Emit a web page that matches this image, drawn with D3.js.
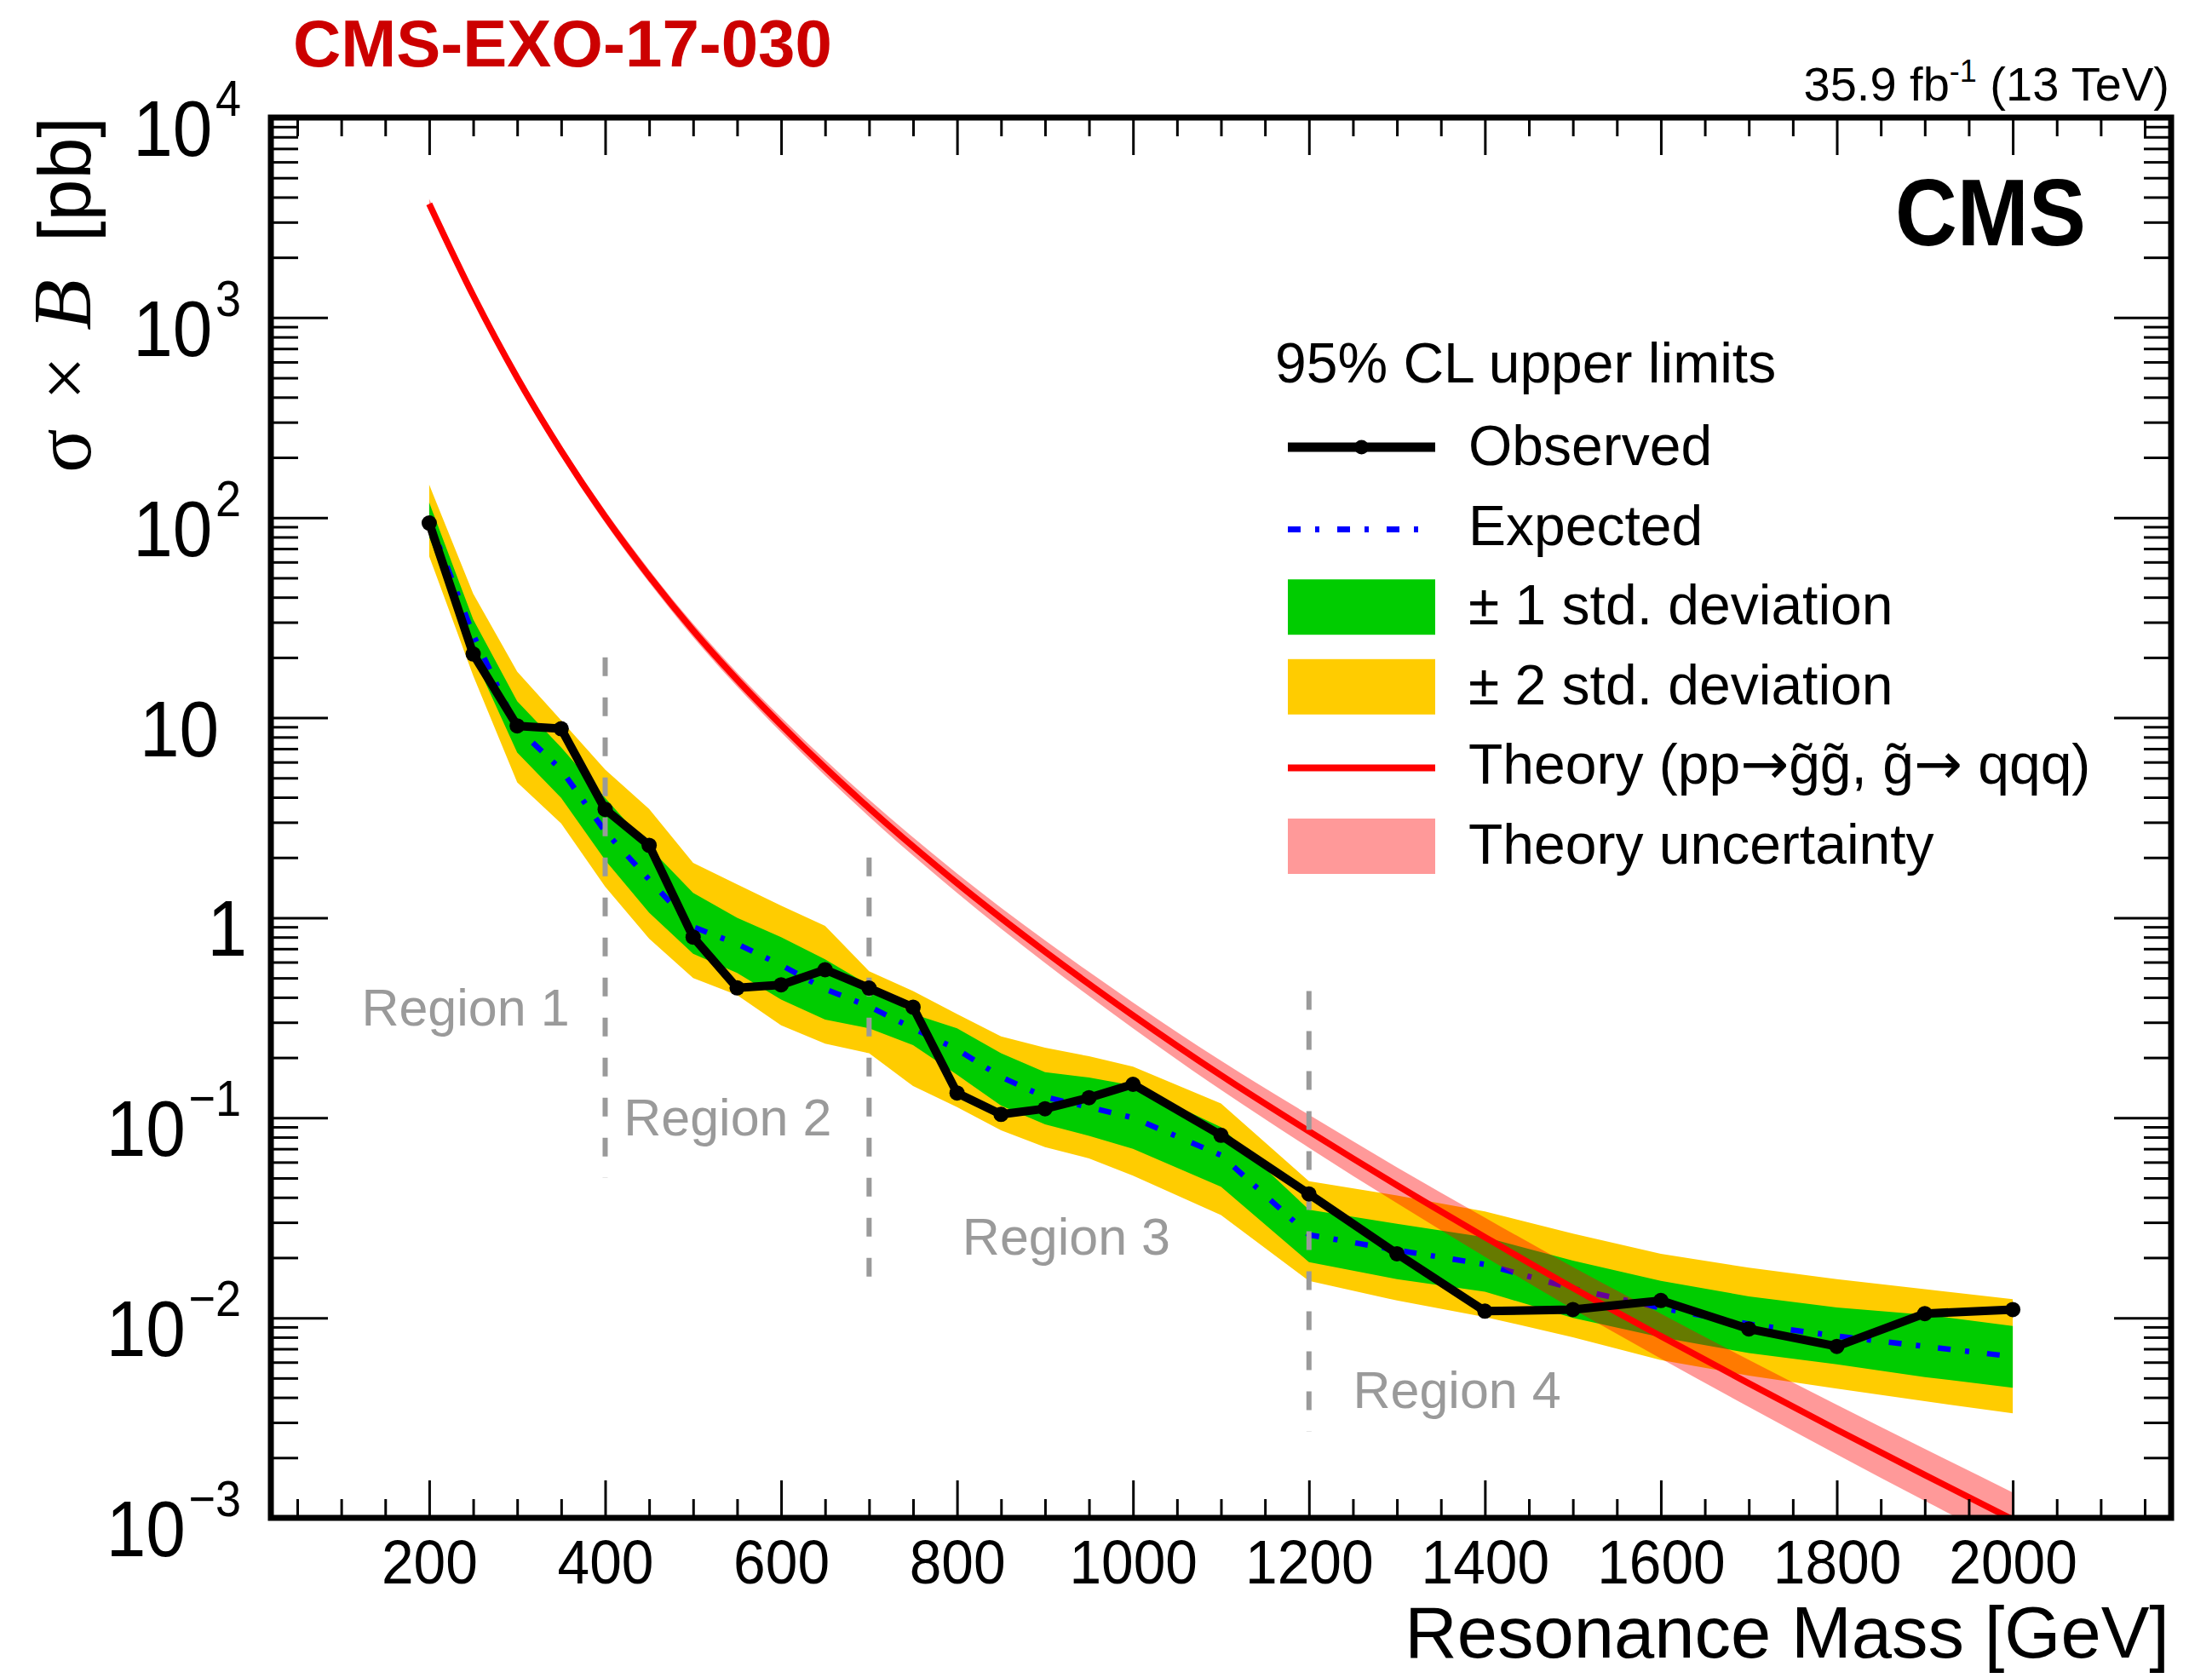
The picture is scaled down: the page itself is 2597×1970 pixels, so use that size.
<!DOCTYPE html>
<html>
<head>
<meta charset="utf-8">
<script src="https://cdn.jsdelivr.net/npm/d3@7"></script>
<style>
  body { margin: 0; background: #fff; }
  svg { display: block; }
  text { font-family: "Liberation Sans", Arial, Helvetica, sans-serif; }
</style>
</head>
<body>
<svg id="chart" width="2597" height="1970"></svg>
<script>
// Resonance mass points (GeV)
const massPoints = [200, 250, 300, 350, 400, 450, 500, 550, 600, 650, 700, 750, 800, 850, 900, 950, 1000,
                    1100, 1200, 1300, 1400, 1500, 1600, 1700, 1800, 1900, 2000];
// 95% CL upper limits on sigma x B (pb)
const observedLimit = [94, 20.8, 9.1, 8.8, 3.48, 2.30, 0.80, 0.446, 0.462, 0.55, 0.445, 0.357, 0.133, 0.104, 0.111, 0.126, 0.147,
                       0.0818, 0.0416, 0.0209, 0.0108, 0.0110, 0.0122, 0.0088, 0.0072, 0.0105, 0.0110];
const expectedLimit = [97, 26, 8.9, 5.5, 2.7, 1.55, 0.9, 0.74, 0.58, 0.44, 0.36, 0.28, 0.22, 0.16, 0.127, 0.113, 0.10,
                       0.065, 0.026, 0.0218, 0.0185, 0.014, 0.0112, 0.0093, 0.0081, 0.0072, 0.0064];
const expectedPlus2 = [146, 41.7, 17, 9.7, 5.5, 3.5, 1.88, 1.47, 1.15, 0.91, 0.54, 0.43, 0.33, 0.255, 0.224, 0.203, 0.18,
                       0.118, 0.0482, 0.0409, 0.034, 0.0264, 0.0209, 0.0178, 0.0156, 0.0139, 0.0124];
const expectedPlus1 = [119, 31, 12.1, 7.1, 3.97, 2.25, 1.33, 1.0, 0.80, 0.62, 0.46, 0.33, 0.28, 0.21, 0.169, 0.159, 0.145,
                       0.0898, 0.0347, 0.0295, 0.0253, 0.0193, 0.0153, 0.0128, 0.01126, 0.01037, 0.0091];
const expectedMinus1 = [80, 20.3, 6.7, 3.97, 1.94, 1.06, 0.66, 0.53, 0.39, 0.31, 0.28, 0.231, 0.164, 0.115, 0.0927, 0.0813, 0.070,
                        0.0452, 0.019, 0.0156, 0.0135, 0.0100, 0.0080, 0.00667, 0.00586, 0.00506, 0.00447];
const expectedMinus2 = [64, 16.2, 4.75, 2.96, 1.43, 0.785, 0.50, 0.41, 0.29, 0.235, 0.21, 0.144, 0.113, 0.0866, 0.0713, 0.0626, 0.0514,
                        0.0326, 0.0153, 0.0122, 0.0101, 0.0080, 0.00615, 0.00514, 0.00443, 0.00383, 0.00333];

// Gluino pair production cross section (pb) and its relative uncertainty (%)
const theoryMass = [200, 250, 300, 350, 400, 450, 500, 550, 600, 650, 700,
                    800, 900, 1000, 1100, 1200, 1300, 1400, 1500, 1600, 1700, 1800, 1900, 2000];
const theoryXsec = [3700, 1290, 501, 216, 101, 51, 27.3, 15.5, 9.2, 5.62, 3.53,
                    1.49, 0.677, 0.325, 0.163, 0.0856, 0.046, 0.0253, 0.0141, 0.0081, 0.0047, 0.00276, 0.00164, 0.000981];
const theoryUncPct = [6.0, 6.2, 6.5, 6.8, 7.2, 7.6, 8.0, 8.4, 9.0, 9.5, 10.2,
                      11.8, 13.8, 16.0, 18.3, 20.8, 23.0, 25.3, 27.4, 29.4, 31.2, 33.0, 34.9, 36.5];

// Search-region boundaries (mass, vertical extent in pb) and region labels
const regionEdgeMass = [400, 700, 1200];
const regionEdgeTop = [20, 2.0, 0.43];
const regionEdgeBottom = [0.05, 0.0137, 0.0027];
const regionNames = ["Region 1", "Region 2", "Region 3", "Region 4"];
const regionLabelMass = [123, 421, 806, 1250];
const regionLabelValue = [0.289, 0.0814, 0.0206, 0.00354];

// Axis ticks
const xMajorTicks = [200, 400, 600, 800, 1000, 1200, 1400, 1600, 1800, 2000];
const xMinorTicks = d3.range(50, 2180, 50).filter(v => v % 200 !== 0);
const yDecades = [-3, -2, -1, 0, 1, 2, 3, 4];
const yMinorTicks = d3.range(-3, 4).flatMap(e => d3.range(2, 10).map(m => m * Math.pow(10, e)));

const colors = {
  green: "#00cc00", yellow: "#ffcc00", blue: "#0000ff", red: "#ff0000",
  pink: "rgba(255,0,0,0.4)", gray: "#9a9a9a", title: "#cc0000"
};

const svg = d3.select("#chart");
const x = d3.scaleLinear().domain([20, 2180]).range([318, 2549]);
const y = d3.scaleLog().domain([1e-3, 1e4]).range([1782, 138]);
const [xl, xr] = x.range();
const [yb, yt] = y.range();

svg.append("rect").attr("width", 2597).attr("height", 1970).attr("fill", "#fff");

svg.append("clipPath").attr("id", "plotClip")
  .append("rect").attr("x", xl).attr("y", yt).attr("width", xr - xl).attr("height", yb - yt);
const plotArea = svg.append("g").attr("clip-path", "url(#plotClip)");

const limits = massPoints.map((m, i) => ({
  m, obs: observedLimit[i], exp: expectedLimit[i],
  p2: expectedPlus2[i], p1: expectedPlus1[i], m1: expectedMinus1[i], m2: expectedMinus2[i]
}));

// Expected +-2 and +-1 sigma bands
const band = (lo, hi) => d3.area().x(d => x(d.m)).y0(d => y(d[lo])).y1(d => y(d[hi]));
plotArea.append("path").datum(limits).attr("d", band("m2", "p2")).attr("fill", colors.yellow);
plotArea.append("path").datum(limits).attr("d", band("m1", "p1")).attr("fill", colors.green);

// Expected limit
plotArea.append("path").datum(limits)
  .attr("d", d3.line().x(d => x(d.m)).y(d => y(d.exp)))
  .attr("fill", "none").attr("stroke", colors.blue).attr("stroke-width", 6.5)
  .attr("stroke-dasharray", "15,17,5,21");

// Theory curve with uncertainty band
const theory = theoryMass.map((m, i) => ({
  m, xs: theoryXsec[i], up: theoryXsec[i] * (1 + theoryUncPct[i] / 100), dn: theoryXsec[i] / (1 + theoryUncPct[i] / 100)
}));
plotArea.append("path").datum(theory)
  .attr("d", d3.area().x(d => x(d.m)).y0(d => y(d.dn)).y1(d => y(d.up)).curve(d3.curveMonotoneX))
  .attr("fill", colors.pink);
plotArea.append("path").datum(theory)
  .attr("d", d3.line().x(d => x(d.m)).y(d => y(d.xs)).curve(d3.curveMonotoneX))
  .attr("fill", "none").attr("stroke", colors.red).attr("stroke-width", 7.5);

// Region boundaries
plotArea.selectAll(".region-edge").data(regionEdgeMass).join("line")
  .attr("class", "region-edge")
  .attr("x1", d => x(d)).attr("x2", d => x(d))
  .attr("y1", (d, i) => y(regionEdgeTop[i])).attr("y2", (d, i) => y(regionEdgeBottom[i]))
  .attr("stroke", colors.gray).attr("stroke-width", 6).attr("stroke-dasharray", "22,25");

svg.selectAll(".region-label").data(regionNames).join("text")
  .attr("class", "region-label")
  .attr("x", (d, i) => x(regionLabelMass[i])).attr("y", (d, i) => y(regionLabelValue[i]))
  .attr("fill", colors.gray).style("font-size", "61px").text(d => d);

// Observed limit
plotArea.append("path").datum(limits)
  .attr("d", d3.line().x(d => x(d.m)).y(d => y(d.obs)))
  .attr("fill", "none").attr("stroke", "#000").attr("stroke-width", 10).attr("stroke-linejoin", "round");
plotArea.selectAll(".obs-pt").data(limits).join("circle")
  .attr("class", "obs-pt").attr("cx", d => x(d.m)).attr("cy", d => y(d.obs)).attr("r", 9).attr("fill", "#000");

// Axes: ticks on all four sides
function styleAxis(g) {
  g.select(".domain").remove();
  g.selectAll(".tick line").attr("stroke", "#000").attr("stroke-width", 3);
}
const xMajorAxis = svg.append("g").attr("transform", `translate(0,${yb})`)
  .call(d3.axisBottom(x).tickValues(xMajorTicks).tickSize(-44).tickPadding(26).tickFormat(d3.format("d")))
  .call(styleAxis);
xMajorAxis.selectAll("text").style("font-size", "72px").attr("fill", "#000")
  .attr("font-family", null).attr("transform", "scale(0.94,1)");
svg.append("g").attr("transform", `translate(0,${yb})`)
  .call(d3.axisBottom(x).tickValues(xMinorTicks).tickSize(-22).tickFormat("")).call(styleAxis);
svg.append("g").attr("transform", `translate(0,${yt})`)
  .call(d3.axisTop(x).tickValues(xMajorTicks).tickSize(-44).tickFormat("")).call(styleAxis);
svg.append("g").attr("transform", `translate(0,${yt})`)
  .call(d3.axisTop(x).tickValues(xMinorTicks).tickSize(-22).tickFormat("")).call(styleAxis);

const yMajorValues = yDecades.map(e => Math.pow(10, e));
svg.append("g").attr("transform", `translate(${xl},0)`)
  .call(d3.axisLeft(y).tickValues(yMajorValues).tickSize(-67).tickFormat("")).call(styleAxis);
svg.append("g").attr("transform", `translate(${xl},0)`)
  .call(d3.axisLeft(y).tickValues(yMinorTicks).tickSize(-32).tickFormat("")).call(styleAxis);
svg.append("g").attr("transform", `translate(${xr},0)`)
  .call(d3.axisRight(y).tickValues(yMajorValues).tickSize(-67).tickFormat("")).call(styleAxis);
svg.append("g").attr("transform", `translate(${xr},0)`)
  .call(d3.axisRight(y).tickValues(yMinorTicks).tickSize(-32).tickFormat("")).call(styleAxis);

// Frame
svg.append("rect").attr("x", xl).attr("y", yt).attr("width", xr - xl).attr("height", yb - yt)
  .attr("fill", "none").attr("stroke", "#000").attr("stroke-width", 7);

// Logarithmic y tick labels (10^n)
yDecades.forEach(e => {
  const ty = y(Math.pow(10, e));
  const anchorX = e === 0 ? 290 : (e === 1 ? 257 : 283);
  const t = svg.append("text")
    .attr("transform", `translate(${anchorX},${ty + 45}) scale(0.9,1)`)
    .attr("text-anchor", "end").style("font-size", "93px");
  if (e === 0) t.text("1");
  else if (e === 1) t.text("10");
  else {
    t.append("tspan").text("10");
    t.append("tspan").attr("dx", 4).attr("dy", -47).style("font-size", "60px").text(e < 0 ? "\u2212" + (-e) : String(e));
  }
});

// Axis titles
svg.append("text").attr("x", 2547).attr("y", 1946).attr("text-anchor", "end")
  .style("font-size", "85px").text("Resonance Mass [GeV]");
const yTitle = svg.append("g").attr("transform", "rotate(-90)");
yTitle.append("text").attr("x", -555).attr("y", 106).style("font-size", "96px")
  .style("font-family", "'Liberation Serif', serif").text("\u03C3");
yTitle.append("text").attr("x", -470).attr("y", 106).style("font-size", "92px")
  .style("font-family", "'Liberation Serif', serif").text("\u00D7");
yTitle.append("text").attr("x", -388).attr("y", 106).style("font-size", "98px")
  .style("font-family", "'Liberation Serif', serif").style("font-style", "italic").text("B");
yTitle.append("text").attr("x", -284).attr("y", 106).style("font-size", "88px").text("[pb]");

// Header texts
svg.append("text").attr("x", 344).attr("y", 78).attr("fill", colors.title)
  .style("font-size", "78px").style("font-weight", "bold").text("CMS-EXO-17-030");
svg.append("text").attr("transform", "translate(2449,288) scale(0.9,1)").attr("text-anchor", "end")
  .style("font-size", "112px").style("font-weight", "bold").text("CMS");
const lumi = svg.append("text").attr("x", 2547).attr("y", 118).attr("text-anchor", "end").style("font-size", "56px");
lumi.append("tspan").text("35.9 fb");
lumi.append("tspan").attr("dy", -22).style("font-size", "36px").text("-1");
lumi.append("tspan").attr("dy", 22).text(" (13 TeV)");

// Legend
const legend = svg.append("g");
legend.append("text").attr("x", 1497).attr("y", 449).style("font-size", "66px").text("95% CL upper limits");
const rowBase = i => 546 + i * 93.6;
const symX0 = 1512, symX1 = 1685;
const legendText = i => legend.append("text").attr("x", 1724).attr("y", rowBase(i)).style("font-size", "66px");
legendText(0).text("Observed");
legendText(1).text("Expected");
legendText(2).text("\u00B1 1 std. deviation");
legendText(3).text("\u00B1 2 std. deviation");
const thText = legendText(4);
const arrowFont = "'DejaVu Sans', sans-serif";
thText.append("tspan").text("Theory (pp");
thText.append("tspan").style("font-family", arrowFont).style("font-size", "68px").text("\u2192");
thText.append("tspan").text("g\u0303g\u0303, g\u0303");
thText.append("tspan").style("font-family", arrowFont).style("font-size", "68px").text("\u2192");
thText.append("tspan").text(" qqq)");
legendText(5).text("Theory uncertainty");

// Observed symbol
legend.append("line").attr("x1", symX0).attr("x2", symX1).attr("y1", rowBase(0) - 21).attr("y2", rowBase(0) - 21)
  .attr("stroke", "#000").attr("stroke-width", 11);
legend.append("circle").attr("cx", (symX0 + symX1) / 2).attr("cy", rowBase(0) - 21).attr("r", 8.5).attr("fill", "#000");
// Expected symbol
legend.append("line").attr("x1", symX0).attr("x2", symX1 - 15).attr("y1", rowBase(1) - 18).attr("y2", rowBase(1) - 18)
  .attr("stroke", colors.blue).attr("stroke-width", 7).attr("stroke-dasharray", "15,17,5,21");
// Band symbols
[[2, colors.green], [3, colors.yellow], [5, colors.pink]].forEach(([i, c]) => {
  legend.append("rect").attr("x", symX0).attr("y", rowBase(i) - 53).attr("width", symX1 - symX0).attr("height", 65).attr("fill", c);
});
// Theory symbol
legend.append("line").attr("x1", symX0).attr("x2", symX1).attr("y1", rowBase(4) - 19).attr("y2", rowBase(4) - 19)
  .attr("stroke", colors.red).attr("stroke-width", 8);
</script>
</body>
</html>
